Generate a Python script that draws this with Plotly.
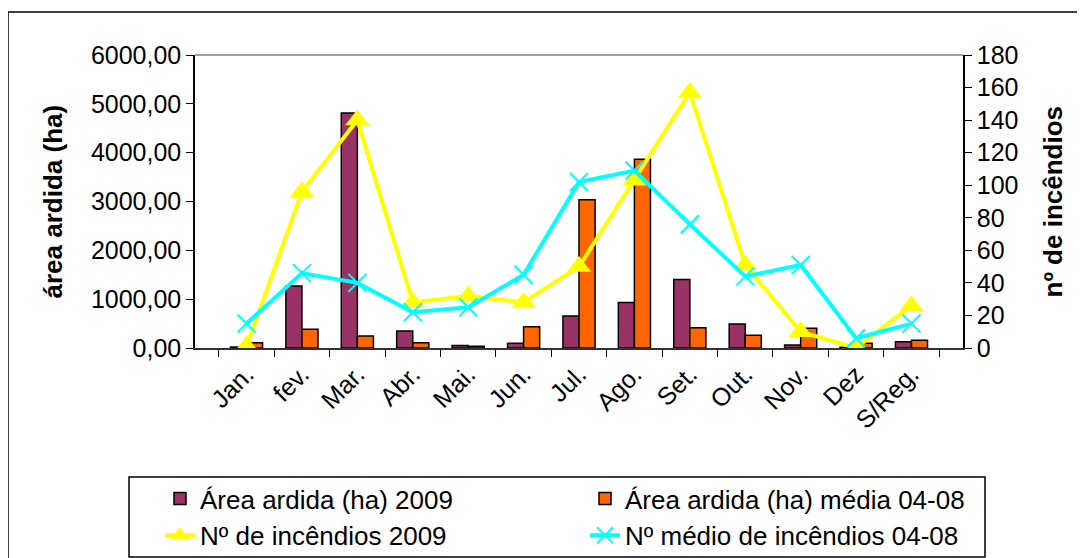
import plotly.graph_objects as go

months = ["Jan.", "fev.", "Mar.", "Abr.", "Mai.", "Jun.", "Jul.", "Ago.", "Set.", "Out.", "Nov.", "Dez", "S/Reg."]
area_2009 = [20, 1270, 4810, 350, 50, 95, 655, 930, 1405, 490, 60, 15, 130]
area_media = [105, 385, 245, 105, 35, 435, 3035, 3865, 415, 260, 405, 95, 160]
incendios_2009 = [1, 96, 140, 28, 32, 28, 50, 103, 157, 51, 10, 0, 26]
incendios_media = [15, 46, 40, 22, 25, 45, 102, 109, 76, 44, 51, 6, 15]

FONT = "Liberation Sans, Arial, sans-serif"
W, H = 1085, 558

fig = go.Figure()
fig.add_trace(go.Bar(x=months, y=area_2009, name="Área ardida (ha) 2009",
                     marker=dict(color="#993366", line=dict(color="black", width=1.5))))
fig.add_trace(go.Bar(x=months, y=area_media, name="Área ardida (ha) média 04-08",
                     marker=dict(color="#FF6600", line=dict(color="black", width=1.5))))
fig.add_trace(go.Scatter(x=months, y=incendios_2009, name="Nº de incêndios 2009", yaxis="y2",
                         mode="lines+markers", line=dict(color="#FFFF00", width=4),
                         marker=dict(symbol="triangle-up", size=21, color="#FFFF00")))
fig.add_trace(go.Scatter(x=months, y=incendios_media, name="Nº médio de incêndios 04-08", yaxis="y2",
                         mode="lines+markers", line=dict(color="#00FFFF", width=4),
                         marker=dict(symbol="x-thin-open", size=18, color="#00FFFF",
                                     line=dict(color="#00FFFF", width=2))))

# figure coordinates (page is offset by 8 px); plot area: x 187..955, y 47..340
L, R, T, B = 187, 955, 47, 340


def px(x):
    return (x - L) / (R - L)


def py(y):
    return (B - y) / (B - T)


fig.update_layout(
    width=W, height=H,
    margin=dict(l=L, r=W - R, t=T, b=H - B, autoexpand=False),
    paper_bgcolor="white", plot_bgcolor="white",
    separators=",.",
    barmode="group", bargap=0.42, bargroupgap=0,
    font=dict(family=FONT, size=24, color="black"),
    showlegend=True,
    legend=dict(orientation="h", x=px(152), y=py(467), xanchor="left", yanchor="top",
                borderwidth=0, bgcolor="rgba(0,0,0,0)",
                font=dict(family=FONT, size=26, color="black"),
                entrywidth=380, entrywidthmode="pixels", tracegroupgap=0,
                itemsizing="trace", traceorder="normal"),
    xaxis=dict(showline=True, linecolor="#333333", linewidth=1.5, ticks="outside", ticklen=7,
               tickson="boundaries", tickcolor="black", tickangle=-45, automargin=False,
               tickfont=dict(family=FONT, size=25), showgrid=False, mirror=False),
    yaxis=dict(range=[0, 6000], dtick=1000, tickformat=".2f", showline=True, linecolor="black",
               linewidth=1.5, ticks="outside", ticklen=7, tickcolor="black", showgrid=False,
               zeroline=False, tickfont=dict(family=FONT, size=25), automargin=False),
    yaxis2=dict(range=[0, 180], dtick=20, overlaying="y", side="right", showline=True,
                linecolor="black", linewidth=1.5, ticks="outside", ticklen=7, tickcolor="black",
                showgrid=False, zeroline=False, tickfont=dict(family=FONT, size=25), automargin=False),
    annotations=[
        dict(text="<b>área ardida (ha)</b>", xref="paper", yref="paper", x=px(44), y=0.5,
             xanchor="center", yanchor="middle", textangle=-90, showarrow=False,
             font=dict(family=FONT, size=26, color="black")),
        dict(text="<b>nº de incêndios</b>", xref="paper", yref="paper", x=px(1044), y=0.5,
             xanchor="center", yanchor="middle", textangle=-90, showarrow=False,
             font=dict(family=FONT, size=26, color="black")),
    ],
    shapes=[
        dict(type="line", xref="paper", yref="paper", x0=0, x1=1, y0=1, y1=1,
             line=dict(color="#808080", width=1.5), layer="above"),
        dict(type="rect", xref="paper", yref="paper", x0=px(0), x1=px(1072), y0=py(4), y1=py(552),
             line=dict(color="black", width=1.5), layer="below"),
        dict(type="rect", xref="paper", yref="paper", x0=px(121), x1=px(977), y0=py(469), y1=py(549),
             line=dict(color="black", width=1.5), layer="below"),
    ],
)

fig.write_html("out.html")
